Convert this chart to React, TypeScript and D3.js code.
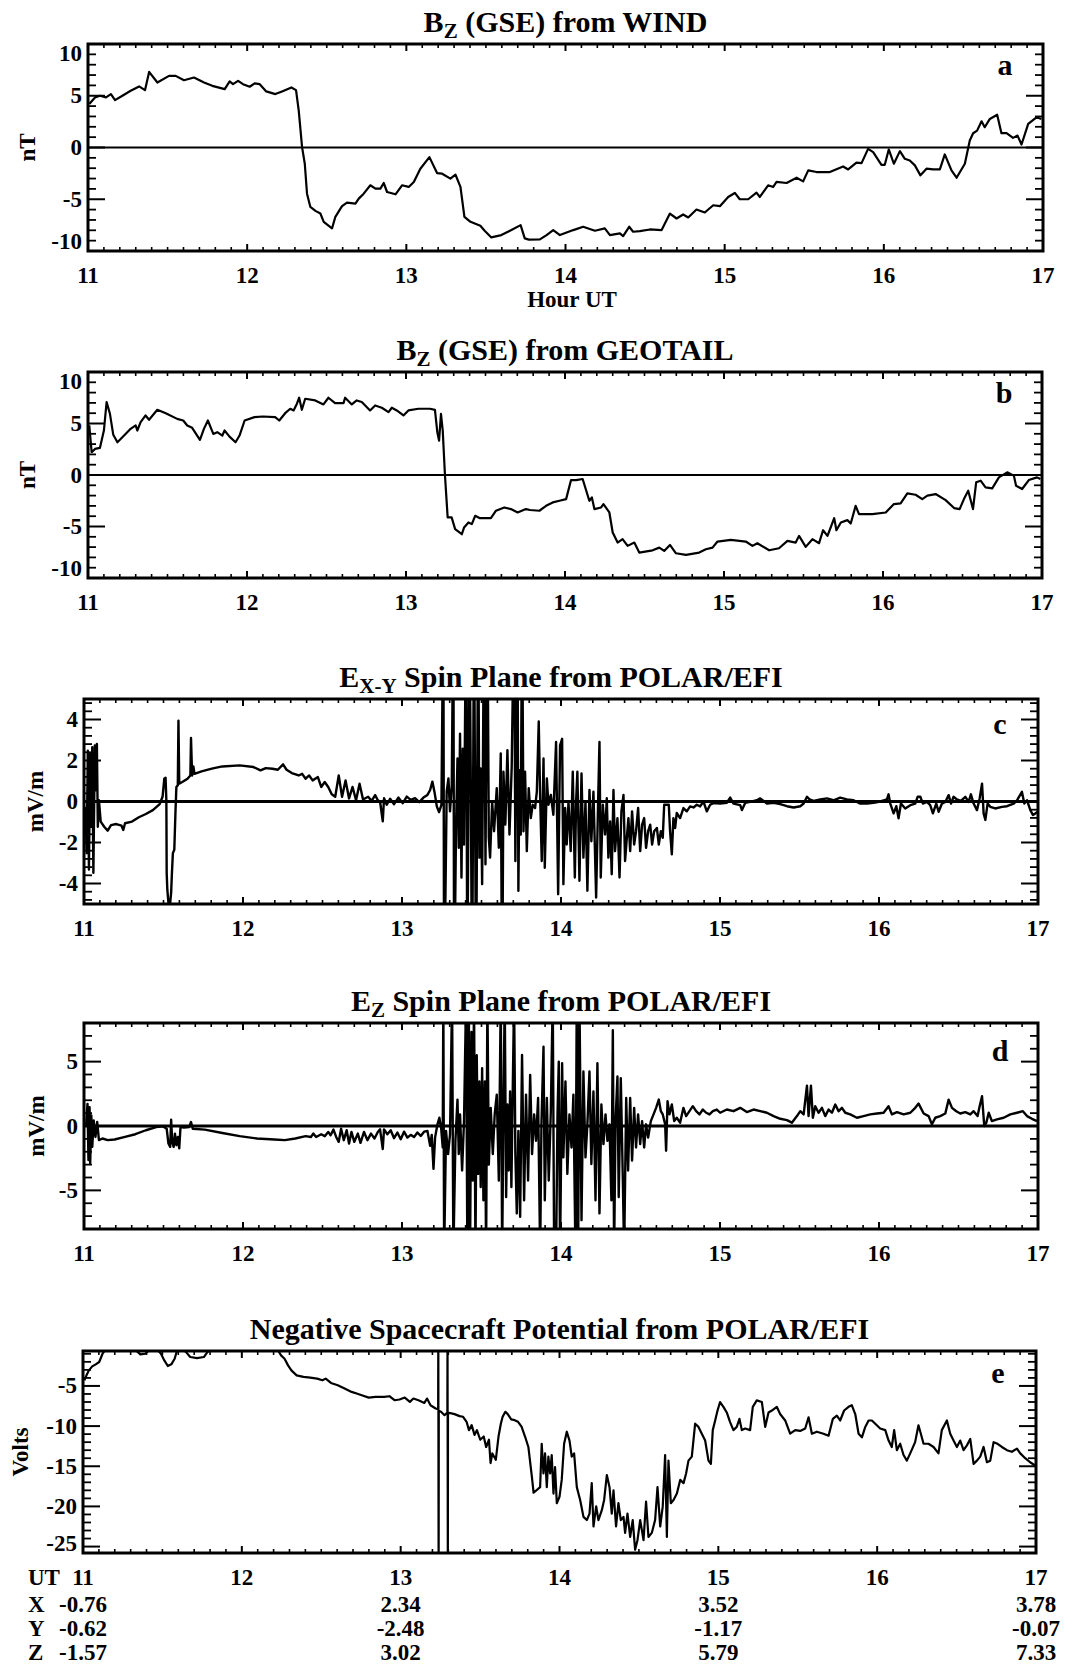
import * as d3 from "d3";

type Pt = [number, number];

const W = 1079;
const H = 1669;
const SERIF = "'Liberation Serif', 'Times New Roman', Times, serif";

const hourTicks = [11, 12, 13, 14, 15, 16, 17];

// Bz (GSE) from WIND, nT  [hour UT, value]
const windBz: Pt[] = [
  [11.008, 4.2], [11.044, 4.84], [11.075, 5.0], [11.113, 4.84], [11.144, 5.16], [11.17, 4.58],
  [11.216, 5.0], [11.268, 5.48], [11.321, 5.9], [11.358, 5.54], [11.384, 7.3], [11.436, 6.28],
  [11.509, 6.92], [11.551, 6.92], [11.603, 6.5], [11.666, 6.76], [11.729, 6.28], [11.781, 5.96],
  [11.859, 5.64], [11.89, 6.38], [11.911, 6.12], [11.943, 6.44], [11.974, 6.12], [12.016, 5.87],
  [12.047, 6.19], [12.079, 6.12], [12.12, 5.42], [12.177, 5.16], [12.219, 5.42], [12.278, 5.8],
  [12.307, 5.54], [12.324, 3.56], [12.345, 0.03], [12.362, -1.57], [12.376, -4.46], [12.397, -5.74],
  [12.429, -6.12], [12.46, -6.38], [12.481, -7.18], [12.533, -7.82], [12.554, -6.7], [12.596, -5.67],
  [12.627, -5.32], [12.68, -5.42], [12.701, -4.94], [12.732, -4.46], [12.774, -3.65], [12.806, -3.97],
  [12.837, -3.97], [12.858, -3.43], [12.879, -4.3], [12.932, -4.52], [12.973, -3.65], [13.015, -3.81],
  [13.047, -3.33], [13.088, -2.05], [13.145, -0.93], [13.193, -2.47], [13.225, -2.53], [13.277, -3.01],
  [13.309, -2.63], [13.34, -3.81], [13.365, -6.7], [13.403, -7.18], [13.465, -7.56], [13.492, -8.04],
  [13.534, -8.69], [13.597, -8.46], [13.66, -7.98], [13.718, -7.5], [13.744, -8.78], [13.77, -8.9],
  [13.839, -8.88], [13.881, -8.46], [13.923, -7.98], [13.965, -8.46], [14.049, -7.98], [14.111, -7.66],
  [14.185, -8.04], [14.247, -7.82], [14.279, -8.46], [14.342, -8.3], [14.362, -8.56], [14.4, -7.66],
  [14.425, -8.14], [14.467, -8.08], [14.53, -7.92], [14.604, -7.98], [14.656, -6.38], [14.698, -6.86],
  [14.739, -6.47], [14.771, -6.76], [14.823, -5.99], [14.875, -6.28], [14.928, -5.58], [14.97, -5.67],
  [15.022, -4.78], [15.064, -4.39], [15.095, -5.0], [15.148, -5.0], [15.2, -4.36], [15.221, -4.78],
  [15.273, -3.65], [15.305, -3.81], [15.326, -3.33], [15.389, -3.43], [15.452, -2.92], [15.493, -3.27],
  [15.525, -2.21], [15.577, -2.37], [15.661, -2.37], [15.744, -1.83], [15.776, -2.12], [15.828, -1.47],
  [15.86, -1.51], [15.901, -0.13], [15.933, -0.45], [15.985, -1.67], [16.006, -1.67], [16.031, -0.19],
  [16.063, -1.57], [16.101, -0.35], [16.132, -1.09], [16.163, -1.25], [16.195, -1.73], [16.23, -2.69],
  [16.268, -2.05], [16.31, -2.12], [16.352, -2.12], [16.383, -0.67], [16.425, -2.21], [16.457, -2.92],
  [16.509, -1.57], [16.54, 0.67], [16.561, 1.38], [16.586, 1.63], [16.614, 2.53], [16.634, 1.96],
  [16.666, 2.76], [16.712, 3.17], [16.739, 1.38], [16.771, 1.38], [16.812, 0.93], [16.84, 1.15],
  [16.865, 0.29], [16.907, 2.28], [16.959, 2.92], [16.99, 2.76],
];

// Bz (GSE) from GEOTAIL, nT
const geotailBz: Pt[] = [
  [11.008, 4.81], [11.023, 2.21], [11.044, 2.53], [11.075, 2.63], [11.1, 4.32], [11.117, 7.08],
  [11.138, 5.94], [11.159, 3.9], [11.185, 3.18], [11.227, 3.83], [11.268, 4.48], [11.3, 4.81],
  [11.31, 4.32], [11.331, 5.13], [11.362, 5.78], [11.384, 5.36], [11.436, 6.33], [11.489, 6.0],
  [11.561, 5.45], [11.599, 5.29], [11.624, 4.81], [11.655, 4.58], [11.704, 3.41], [11.729, 4.48],
  [11.754, 5.29], [11.788, 3.99], [11.813, 4.16], [11.845, 3.83], [11.859, 4.32], [11.89, 3.73],
  [11.928, 3.18], [11.953, 3.83], [11.985, 5.29], [12.047, 5.62], [12.1, 5.68], [12.177, 5.62],
  [12.203, 5.29], [12.24, 6.0], [12.272, 6.43], [12.293, 6.27], [12.314, 6.92], [12.328, 7.5],
  [12.345, 6.33], [12.366, 7.4], [12.429, 7.24], [12.481, 6.85], [12.512, 7.5], [12.554, 6.98],
  [12.607, 6.98], [12.617, 7.5], [12.659, 6.85], [12.69, 7.24], [12.722, 7.08], [12.774, 6.27],
  [12.806, 6.75], [12.848, 6.53], [12.89, 6.1], [12.911, 6.53], [12.942, 6.27], [12.984, 5.78],
  [13.015, 6.27], [13.078, 6.43], [13.151, 6.43], [13.182, 6.33], [13.197, 4.16], [13.208, 3.34],
  [13.22, 5.94], [13.231, 4.32], [13.245, 0], [13.262, -4.12], [13.287, -4.12], [13.309, -5.26],
  [13.351, -5.75], [13.365, -5.1], [13.393, -4.61], [13.414, -4.77], [13.435, -3.96], [13.465, -4.19],
  [13.534, -4.19], [13.566, -3.47], [13.618, -3.15], [13.66, -3.31], [13.702, -3.64], [13.754, -3.31],
  [13.78, -3.4], [13.839, -3.47], [13.881, -2.99], [13.923, -2.66], [13.965, -2.5], [14.007, -2.34],
  [14.038, -0.49], [14.07, -0.49], [14.111, -0.39], [14.153, -2.5], [14.169, -2.18], [14.185, -3.31],
  [14.227, -3.15], [14.242, -2.82], [14.279, -3.64], [14.3, -5.58], [14.331, -6.56], [14.362, -6.23],
  [14.394, -6.88], [14.436, -6.56], [14.467, -7.53], [14.551, -7.31], [14.593, -7.05], [14.624, -7.37],
  [14.66, -6.79], [14.698, -7.6], [14.761, -7.76], [14.844, -7.53], [14.886, -7.21], [14.928, -7.05],
  [14.959, -6.46], [15.043, -6.3], [15.137, -6.46], [15.179, -6.88], [15.21, -6.62], [15.284, -7.31],
  [15.346, -7.11], [15.399, -6.4], [15.451, -6.56], [15.472, -5.91], [15.514, -6.98], [15.556, -6.23],
  [15.598, -6.62], [15.623, -5.36], [15.651, -5.91], [15.693, -4.19], [15.707, -5.36], [15.735, -4.61],
  [15.776, -4.38], [15.797, -4.71], [15.828, -2.99], [15.849, -3.8], [15.933, -3.8], [16.017, -3.64],
  [16.069, -2.82], [16.111, -2.76], [16.153, -1.79], [16.205, -1.92], [16.247, -2.34], [16.279, -2.01],
  [16.331, -1.85], [16.394, -2.44], [16.447, -3.21], [16.482, -3.31], [16.509, -2.34], [16.536, -1.53],
  [16.566, -3.31], [16.586, -0.71], [16.614, -0.55], [16.645, -1.2], [16.687, -1.3], [16.729, -0.23],
  [16.781, 0.26], [16.823, -0.06], [16.837, -1.04], [16.875, -1.36], [16.917, -0.49], [16.969, -0.23],
  [16.99, -0.39],
];

// E x-y spin plane from POLAR/EFI, mV/m (values beyond the box are off-scale spikes)
const exyEfi: Pt[] = [
  [11.009, -0.26], [11.017, -2.52], [11.024, 2.48], [11.031, -3.32], [11.039, 2.32], [11.046, -1.23],
  [11.052, 2.65], [11.059, -3.48], [11.068, 2.73], [11.074, 0.55], [11.081, 2.81], [11.087, -1.23],
  [11.094, 0.06], [11.105, -0.98], [11.127, -1.23], [11.149, -1.42], [11.17, -1.15], [11.203, -1.1],
  [11.236, -1.18], [11.247, -1.39], [11.258, -1.06], [11.302, -0.98], [11.345, -0.77], [11.389, -0.61],
  [11.433, -0.42], [11.476, -0.13], [11.494, 0.23], [11.505, 1.11], [11.513, 1.16], [11.518, 0.06],
  [11.52, -3.48], [11.524, -4.29], [11.531, -4.94], [11.542, -4.94], [11.548, -4.45], [11.553, -3.48],
  [11.559, -2.52], [11.568, -2.35], [11.575, -0.58], [11.581, 0.71], [11.59, 0.79], [11.594, 3.94],
  [11.599, 0.87], [11.618, 0.95], [11.651, 1.11], [11.669, 1.27], [11.673, 3.1], [11.68, 1.27],
  [11.688, 1.71], [11.695, 1.35], [11.739, 1.47], [11.804, 1.6], [11.87, 1.71], [11.979, 1.76],
  [12.066, 1.68], [12.11, 1.52], [12.143, 1.63], [12.186, 1.6], [12.219, 1.55], [12.252, 1.81],
  [12.274, 1.55], [12.307, 1.39], [12.35, 1.27], [12.372, 1.35], [12.394, 1.11], [12.416, 1.27],
  [12.438, 1.03], [12.471, 1.19], [12.492, 0.71], [12.514, 0.95], [12.536, 0.71], [12.558, 0.35],
  [12.58, 0.23], [12.602, 1.27], [12.623, 0.23], [12.645, 1.03], [12.667, 0.15], [12.689, 0.71],
  [12.711, 0.06], [12.733, 0.87], [12.755, 0.1], [12.787, 0.23], [12.809, 0.03], [12.831, 0.31],
  [12.848, 0.06], [12.862, 0], [12.879, -0.97], [12.887, 0.16], [12.904, -0.16], [12.925, 0.13],
  [12.95, -0.13], [12.977, 0.19], [13.005, -0.08], [13.03, 0.24], [13.055, 0.08], [13.082, 0.16],
  [13.109, -0.03], [13.135, 0.19], [13.16, 0.32], [13.177, 0.56], [13.191, 0.97], [13.204, 0.48],
  [13.219, -0.24], [13.233, -0.52], [13.248, -0.16], [13.26, 10], [13.265, -10], [13.281, 0.48],
  [13.292, 1.13], [13.302, -0.48], [13.313, 0.81], [13.323, 10], [13.328, -10], [13.34, -1.13],
  [13.349, 2.1], [13.357, -2.26], [13.365, 3.31], [13.374, -3.71], [13.382, 2.58], [13.39, -2.1],
  [13.403, 10], [13.411, -10], [13.424, 10], [13.432, 1.61], [13.441, -10], [13.453, 10],
  [13.466, -10], [13.479, 10], [13.487, -2.74], [13.495, 1.61], [13.504, -4.03], [13.516, 10],
  [13.525, -3.06], [13.537, 10], [13.546, -1.77], [13.554, -2.74], [13.567, 0], [13.579, -1.45],
  [13.596, 0.65], [13.609, -2.26], [13.621, 2.34], [13.63, -10], [13.638, 1.45], [13.65, -1.13],
  [13.663, 2.5], [13.676, -1.61], [13.69, 1.69], [13.705, 10], [13.713, -2.9], [13.726, 10],
  [13.732, -4.35], [13.739, 1.53], [13.747, -1.61], [13.755, 10], [13.764, -1.45], [13.774, 1.45],
  [13.785, -2.42], [13.797, 0.65], [13.81, -0.81], [13.822, -0.16], [13.837, -0.32], [13.848, 0.48],
  [13.86, 3.9], [13.869, 0.16], [13.879, -2.9], [13.89, 2.1], [13.898, -3.23], [13.911, 1.13],
  [13.921, -0.16], [13.936, 0.32], [13.952, -0.65], [13.969, 2.9], [13.982, -4.52], [13.994, 2.74],
  [14.007, 3.06], [14.015, -4.03], [14.026, -0.32], [14.036, -2.1], [14.047, 0], [14.061, -2.42],
  [14.074, 1.45], [14.087, -3.71], [14.095, 0], [14.103, 1.45], [14.116, -3.87], [14.129, 1.37],
  [14.141, -2.74], [14.154, 0], [14.166, -4.35], [14.179, 0.56], [14.191, -1.94], [14.204, 0.48],
  [14.221, -4.68], [14.233, -0.16], [14.242, 2.9], [14.25, -3.71], [14.263, -0.16], [14.277, -1.61],
  [14.288, 0.16], [14.298, -2.74], [14.309, -0.97], [14.319, -3.55], [14.33, 0.56], [14.34, -2.42],
  [14.355, -0.81], [14.368, -3.71], [14.38, -0.48], [14.393, 0.32], [14.403, -2.9], [14.414, -1.77],
  [14.424, -0.81], [14.435, -2.42], [14.447, -0.48], [14.46, -2.1], [14.472, -1.45], [14.485, -0.32],
  [14.498, -2.42], [14.51, -1.13], [14.523, -0.81], [14.535, -2.26], [14.548, -1.45], [14.561, -1.13],
  [14.573, -2.1], [14.586, -1.45], [14.603, -1.29], [14.615, -2.1], [14.628, -1.45], [14.64, -1.77],
  [14.649, -0.16], [14.678, -0.16], [14.686, -1.45], [14.697, -2.58], [14.707, -0.81], [14.718, -1.29],
  [14.728, -0.56], [14.749, -0.81], [14.77, -0.32], [14.791, -0.48], [14.812, -0.24], [14.833, -0.29],
  [14.854, -0.16], [14.875, -0.24], [14.896, 0], [14.917, -0.48], [14.938, -0.16], [14.959, -0.08],
  [15.001, -0.1], [15.043, -0.06], [15.064, 0.19], [15.085, -0.1], [15.127, -0.18], [15.138, -0.42],
  [15.159, -0.06], [15.19, -0.02], [15.232, 0.06], [15.253, 0.15], [15.295, -0.1], [15.337, -0.06],
  [15.379, -0.13], [15.421, -0.23], [15.463, -0.29], [15.505, -0.23], [15.526, -0.1], [15.547, 0.23],
  [15.563, 0.1], [15.589, 0.03], [15.631, 0.1], [15.672, 0.15], [15.714, 0.06], [15.756, 0.19],
  [15.798, 0.1], [15.84, 0.06], [15.882, -0.1], [15.924, -0.1], [15.966, -0.06], [16.008, 0],
  [16.05, 0.1], [16.06, 0.35], [16.071, -0.1], [16.092, -0.58], [16.109, -0.23], [16.123, -0.82],
  [16.138, -0.1], [16.165, -0.34], [16.197, -0.18], [16.228, -0.1], [16.243, 0.23], [16.26, 0.23],
  [16.276, -0.1], [16.302, -0.02], [16.322, -0.18], [16.339, -0.58], [16.36, -0.1], [16.375, -0.5],
  [16.396, -0.1], [16.417, -0.02], [16.438, 0.31], [16.453, -0.1], [16.469, 0.23], [16.49, 0.1],
  [16.515, 0.03], [16.543, 0.23], [16.564, -0.02], [16.578, 0.35], [16.595, -0.1], [16.616, -0.42],
  [16.633, 0.15], [16.648, 0.87], [16.658, -0.58], [16.669, -0.9], [16.683, -0.1], [16.7, -0.26],
  [16.731, -0.34], [16.773, -0.26], [16.805, -0.23], [16.847, -0.1], [16.868, 0.06], [16.899, 0.47],
  [16.914, -0.1], [16.931, 0.06], [16.952, -0.42], [16.968, -0.66], [16.983, -0.58], [16.998, -0.5],
];

// E z spin plane from POLAR/EFI, mV/m
const ezEfi: Pt[] = [
  [11.013, 0], [11.022, 1.72], [11.028, -2.64], [11.035, 1.46], [11.039, -2.9], [11.046, 0.82],
  [11.052, -1.62], [11.061, 0.44], [11.072, -0.85], [11.083, 0.31], [11.094, -1.1], [11.116, -0.97],
  [11.149, -1.1], [11.192, -1.05], [11.258, -0.85], [11.323, -0.64], [11.389, -0.33], [11.454, -0.08],
  [11.498, -0.03], [11.52, -0.21], [11.531, -1.36], [11.542, -1.62], [11.548, 0.49], [11.555, -1.23],
  [11.564, -1.62], [11.572, -0.59], [11.581, -1.49], [11.59, -0.85], [11.599, -1.74], [11.607, -0.08],
  [11.629, -0.13], [11.662, -0.08], [11.673, 0.31], [11.684, -0.21], [11.76, -0.28], [11.87, -0.54],
  [11.979, -0.79], [12.088, -0.97], [12.197, -1.05], [12.263, -1.1], [12.329, -0.97], [12.394, -0.79],
  [12.427, -0.85], [12.442, -0.59], [12.46, -0.85], [12.492, -0.64], [12.514, -0.79], [12.536, -0.46],
  [12.551, -0.72], [12.569, -0.28], [12.586, -0.85], [12.602, -1.23], [12.617, -0.21], [12.634, -1.1],
  [12.652, -0.33], [12.667, -1.36], [12.682, -0.46], [12.7, -1.23], [12.722, -0.59], [12.739, -1.31],
  [12.761, -0.46], [12.783, -1.1], [12.805, -0.59], [12.827, -0.97], [12.848, -0.46], [12.862, -0.26],
  [12.879, -1.79], [12.887, -0.26], [12.908, -0.64], [12.929, -0.33], [12.95, -0.95], [12.971, -0.51],
  [12.992, -1.03], [13.013, -0.44], [13.034, -0.9], [13.055, -0.69], [13.076, -0.85], [13.097, -0.51],
  [13.118, -0.77], [13.139, -0.44], [13.16, -0.38], [13.177, -1.54], [13.187, -0.69], [13.198, -3.33],
  [13.208, -0.9], [13.223, 0.13], [13.235, 0.64], [13.246, -0.13], [13.256, -1.67], [13.26, 10],
  [13.265, -10], [13.277, -0.38], [13.29, -2.18], [13.302, -0.64], [13.315, 10], [13.323, -10],
  [13.336, -1.15], [13.349, 2.05], [13.357, -2.18], [13.365, 0.9], [13.378, -3.46], [13.39, 0.38],
  [13.403, 10], [13.411, -10], [13.42, 10], [13.428, -10], [13.437, 7.3], [13.445, -4.23],
  [13.453, 10], [13.462, -10], [13.47, 5.5], [13.479, -3.72], [13.487, 3.46], [13.495, -4.74],
  [13.504, 4.49], [13.512, -5.77], [13.521, 3.46], [13.529, -10], [13.537, 10], [13.546, -3.0],
  [13.558, 1.41], [13.571, -2.18], [13.583, 0.9], [13.596, 2.44], [13.609, -4.23], [13.621, 10],
  [13.63, -10], [13.638, 1.15], [13.646, 10], [13.655, -5.51], [13.663, 1.67], [13.671, -3.46],
  [13.68, 2.69], [13.688, -4.74], [13.697, 3.21], [13.705, 10], [13.713, -2.18], [13.722, -6.79],
  [13.732, -0.38], [13.743, -7.05], [13.755, 5.51], [13.768, -5.77], [13.78, 2.44], [13.793, -4.23],
  [13.806, 3.97], [13.818, -2.18], [13.831, 0.9], [13.843, -1.15], [13.856, 2.18], [13.869, -10],
  [13.877, 0.13], [13.89, 6.15], [13.898, -5.77], [13.911, 2.18], [13.923, -4.23], [13.936, 1.15],
  [13.948, 10], [13.957, -10], [13.969, -10], [13.978, 0.9], [13.986, 5.0], [13.994, -10],
  [14.007, 4.87], [14.015, -2.44], [14.028, 3.46], [14.04, -3.72], [14.053, 0.9], [14.066, -1.67],
  [14.078, 2.44], [14.091, -10], [14.099, 10], [14.108, -10], [14.116, 10], [14.129, -7.31],
  [14.141, 4.23], [14.154, -2.44], [14.166, 0.13], [14.179, 4.23], [14.191, -2.95], [14.204, 2.69],
  [14.217, -5.77], [14.229, 4.87], [14.242, -6.79], [14.254, 1.67], [14.267, -1.41], [14.28, 0.9],
  [14.292, -1.15], [14.305, 0.13], [14.317, -5.77], [14.326, 7.44], [14.334, -10], [14.343, 0.38],
  [14.355, 3.85], [14.363, -5.51], [14.376, 3.72], [14.389, -4.23], [14.397, -10], [14.41, 2.18],
  [14.422, -3.46], [14.435, 2.18], [14.447, -2.69], [14.46, 1.41], [14.472, -1.67], [14.485, 0.9],
  [14.498, -1.41], [14.51, 0.38], [14.523, -1.67], [14.535, 0.13], [14.548, -0.9], [14.565, 0.38],
  [14.582, 0.9], [14.598, 1.41], [14.615, 2.05], [14.628, 1.15], [14.64, 0.9], [14.655, 0.13],
  [14.661, -1.92], [14.67, 1.92], [14.682, 0.9], [14.697, 1.67], [14.712, 0.38], [14.728, 0.64],
  [14.749, 0.26], [14.77, 1.41], [14.787, 0.77], [14.808, 1.15], [14.829, 1.54], [14.85, 1.15],
  [14.871, 0.9], [14.892, 1.28], [14.913, 1.03], [14.934, 0.9], [14.955, 1.15], [14.98, 1.28],
  [15.001, 1.03], [15.043, 1.28], [15.085, 1.15], [15.127, 1.41], [15.169, 1.08], [15.211, 1.28],
  [15.253, 1.15], [15.295, 1.03], [15.337, 0.77], [15.379, 0.56], [15.421, 0.46], [15.452, 0.26],
  [15.484, 0.77], [15.505, 1.15], [15.526, 0.9], [15.547, 3.13], [15.557, 0.77], [15.572, 3.13],
  [15.584, 0.64], [15.599, 1.54], [15.62, 1.03], [15.641, 1.41], [15.662, 0.77], [15.683, 1.28],
  [15.704, 1.03], [15.725, 1.67], [15.746, 1.15], [15.767, 1.41], [15.788, 1.03], [15.819, 0.9],
  [15.861, 0.64], [15.903, 0.77], [15.945, 0.9], [15.987, 0.97], [16.029, 1.03], [16.06, 1.54],
  [16.081, 0.9], [16.113, 1.08], [16.155, 0.9], [16.197, 1.03], [16.228, 1.41], [16.249, 1.74],
  [16.281, 0.97], [16.312, 0.77], [16.333, 0.13], [16.354, 0.64], [16.385, 0.77], [16.417, 0.97],
  [16.438, 2.05], [16.459, 1.41], [16.486, 1.15], [16.511, 0.97], [16.543, 1.08], [16.574, 0.9],
  [16.595, 1.15], [16.62, 0.77], [16.633, 1.54], [16.648, 2.31], [16.662, 0], [16.675, 0.26],
  [16.69, 1.03], [16.71, 0.38], [16.742, 0.51], [16.784, 0.64], [16.826, 0.9], [16.868, 1.03],
  [16.905, 1.15], [16.931, 0.77], [16.962, 0.56], [16.994, 0.38],
];

// Negative spacecraft potential from POLAR/EFI, Volts
const scPotential: Pt[] = [
  [11.009, -4.3], [11.022, -3.68], [11.037, -3.06], [11.058, -2.56], [11.08, -2.31], [11.102, -2.02],
  [11.123, -0.99], [11.145, -0.37], [11.177, -0.2], [11.285, -0.37], [11.339, -0.66], [11.361, -1.07],
  [11.393, -0.99], [11.415, -0.58], [11.458, -0.25], [11.491, -0.99], [11.512, -1.82], [11.534, -2.52],
  [11.556, -2.31], [11.577, -1.61], [11.592, -0.58], [11.621, -0.25], [11.649, -0.79], [11.675, -1.4],
  [11.718, -1.53], [11.761, -1.4], [11.783, -0.79], [11.815, -0.25], [11.977, -0.25], [12.15, -0.25],
  [12.226, -0.5], [12.247, -1.2], [12.269, -1.61], [12.291, -2.44], [12.312, -3.06], [12.345, -3.68],
  [12.388, -3.88], [12.431, -3.97], [12.474, -4.09], [12.507, -4.3], [12.528, -4.09], [12.561, -4.63],
  [12.604, -4.92], [12.647, -5.33], [12.691, -5.74], [12.723, -5.95], [12.755, -6.16], [12.799, -6.45],
  [12.842, -6.36], [12.896, -6.36], [12.929, -6.28], [12.961, -6.78], [12.993, -6.69], [13.026, -6.45],
  [13.058, -6.98], [13.08, -6.57], [13.112, -6.78], [13.149, -7.11], [13.166, -6.57], [13.188, -7.4],
  [13.22, -7.81], [13.236, -7.9], [13.237, 2], [13.239, -30], [13.24, -8.1], [13.254, -8.22],
  [13.276, -8.64], [13.294, -8.3], [13.295, 2], [13.297, -30], [13.298, -8.3], [13.306, -8.35],
  [13.339, -8.51], [13.371, -8.76], [13.393, -8.84], [13.415, -9.46], [13.43, -10.5], [13.447, -9.88],
  [13.465, -11.1], [13.48, -10.5], [13.501, -11.7], [13.523, -11.3], [13.538, -12.6], [13.556, -11.7],
  [13.566, -14.6], [13.577, -13.4], [13.599, -14.2], [13.616, -11.3], [13.631, -9.67], [13.642, -8.84],
  [13.659, -8.22], [13.674, -8.51], [13.696, -9.17], [13.718, -9.26], [13.739, -9.46], [13.761, -10.08],
  [13.783, -11.3], [13.804, -12.6], [13.826, -16.3], [13.837, -18.3], [13.878, -17.6], [13.888, -12.2],
  [13.899, -15.9], [13.909, -13.4], [13.92, -17.6], [13.93, -13.8], [13.941, -15.9], [13.951, -13.6],
  [13.962, -18.4], [13.972, -15.1], [13.983, -19.6], [14.0, -18.8], [14.014, -16.7], [14.029, -12.2],
  [14.046, -10.7], [14.063, -11.8], [14.077, -13.8], [14.092, -13.4], [14.109, -17.6], [14.13, -19.2],
  [14.151, -21.3], [14.172, -21.7], [14.189, -20.9], [14.203, -17.1], [14.214, -22.5], [14.231, -20.0],
  [14.245, -21.7], [14.266, -20.5], [14.281, -19.2], [14.298, -16.1], [14.315, -17.6], [14.329, -20.9],
  [14.34, -18.0], [14.356, -22.5], [14.371, -19.6], [14.386, -21.7], [14.403, -21.3], [14.413, -23.3],
  [14.428, -20.9], [14.445, -23.8], [14.461, -21.7], [14.476, -25.4], [14.491, -24.2], [14.508, -21.7],
  [14.529, -24.2], [14.545, -19.4], [14.56, -23.8], [14.581, -23.3], [14.602, -21.7], [14.617, -17.6],
  [14.634, -22.5], [14.65, -20.0], [14.665, -13.6], [14.676, -23.8], [14.686, -14.3], [14.701, -19.6],
  [14.718, -19.2], [14.739, -18.4], [14.76, -16.7], [14.781, -17.1], [14.797, -15.9], [14.812, -14.3],
  [14.833, -13.8], [14.854, -9.7], [14.875, -10.1], [14.896, -10.95], [14.917, -11.8], [14.938, -14.3],
  [14.953, -14.7], [14.965, -10.5], [14.98, -9.3], [14.995, -8.06], [15.011, -7.0], [15.032, -7.6],
  [15.053, -8.3], [15.074, -9.5], [15.095, -10.5], [15.116, -10.1], [15.133, -9.1], [15.148, -10.5],
  [15.169, -10.3], [15.2, -10.5], [15.217, -7.6], [15.242, -6.8], [15.274, -7.0], [15.295, -10.1],
  [15.316, -8.3], [15.337, -8.06], [15.368, -7.6], [15.389, -8.5], [15.421, -9.3], [15.452, -10.95],
  [15.484, -10.5], [15.515, -10.6], [15.547, -10.3], [15.568, -8.9], [15.589, -10.95], [15.62, -10.7],
  [15.662, -10.95], [15.694, -11.2], [15.721, -9.1], [15.746, -8.7], [15.767, -9.3], [15.792, -8.06],
  [15.82, -7.6], [15.84, -7.4], [15.862, -8.5], [15.883, -10.95], [15.904, -11.4], [15.925, -10.1],
  [15.946, -9.3], [15.967, -9.3], [15.988, -9.7], [16.019, -10.3], [16.051, -10.5], [16.072, -11.8],
  [16.092, -12.6], [16.107, -10.5], [16.124, -13.0], [16.145, -12.2], [16.166, -13.6], [16.187, -14.3],
  [16.208, -13.4], [16.239, -12.0], [16.26, -9.9], [16.275, -10.95], [16.292, -12.2], [16.323, -12.2],
  [16.355, -12.6], [16.386, -13.4], [16.407, -10.5], [16.439, -9.3], [16.46, -10.95], [16.481, -11.8],
  [16.502, -12.6], [16.523, -11.8], [16.544, -13.0], [16.565, -12.4], [16.586, -11.6], [16.607, -14.7],
  [16.628, -14.3], [16.649, -13.8], [16.67, -12.6], [16.691, -14.5], [16.712, -14.3], [16.733, -12.0],
  [16.758, -12.2], [16.785, -12.6], [16.817, -13.0], [16.848, -13.2], [16.88, -12.8], [16.901, -13.4],
  [16.932, -14.0], [16.963, -14.5], [16.995, -14.9],
];

// POLAR position table under the last panel
const orbitHours = [11, 13, 15, 17];
const orbitX = ["-0.76", "2.34", "3.52", "3.78"];
const orbitY = ["-0.62", "-2.48", "-1.17", "-0.07"];
const orbitZ = ["-1.57", "3.02", "5.79", "7.33"];

type Box = { l: number; r: number; t: number; b: number };
type Panel = {
  key: string;
  title: [string, string, string];
  yLabel: string;
  yLabelX: number;
  letter: string;
  letterDy: number;
  data: Pt[];
  domain: [number, number];
  majors: number[];
  minorStep: number;
  box: Box;
  zero: number | null;
  lineW: number;
};

const panels: Panel[] = [
  {
    key: "a", title: ["B", "Z", " (GSE) from WIND"], yLabel: "nT", yLabelX: 27, letter: "a", letterDy: 31,
    data: windBz, domain: [-10, 10], majors: [-10, -5, 0, 5, 10], minorStep: 1,
    box: { l: 88, r: 1043, t: 44, b: 251 }, zero: 2.2, lineW: 2.2,
  },
  {
    key: "b", title: ["B", "Z", " (GSE) from GEOTAIL"], yLabel: "nT", yLabelX: 27, letter: "b", letterDy: 31,
    data: geotailBz, domain: [-10, 10], majors: [-10, -5, 0, 5, 10], minorStep: 1,
    box: { l: 88, r: 1042, t: 372, b: 578 }, zero: 2.2, lineW: 2.2,
  },
  {
    key: "c", title: ["E", "X-Y", " Spin Plane from POLAR/EFI"], yLabel: "mV/m", yLabelX: 35, letter: "c", letterDy: 35,
    data: exyEfi, domain: [-5, 5], majors: [-4, -2, 0, 2, 4], minorStep: 0.4,
    box: { l: 84, r: 1038, t: 699, b: 904 }, zero: 3, lineW: 2.4,
  },
  {
    key: "d", title: ["E", "Z", " Spin Plane from POLAR/EFI"], yLabel: "mV/m", yLabelX: 36, letter: "d", letterDy: 38,
    data: ezEfi, domain: [-8, 8], majors: [-5, 0, 5], minorStep: 1,
    box: { l: 84, r: 1038, t: 1023, b: 1229 }, zero: 3, lineW: 2.4,
  },
  {
    key: "e", title: ["Negative Spacecraft Potential from POLAR/EFI", "", ""], yLabel: "Volts", yLabelX: 20, letter: "e", letterDy: 32,
    data: scPotential, domain: [-25.8, -0.65], majors: [-25, -20, -15, -10, -5], minorStep: 1,
    box: { l: 83, r: 1036, t: 1351, b: 1553 }, zero: null, lineW: 2.2,
  },
];

function PanelView({ p }: { p: Panel }) {
  const { l, r, t, b } = p.box;
  const x = d3.scaleLinear().domain([11, 17]).range([l, r]);
  const y = d3.scaleLinear().domain(p.domain).range([b, t]);
  const line = d3
    .line<Pt>()
    .x((d) => x(d[0]))
    .y((d) => y(d[1]));

  const minorX = d3
    .range(111, 170)
    .filter((k) => k % 10 !== 0)
    .map((k) => k / 10);
  const [d0, d1] = p.domain;
  const minorY = d3
    .range(Math.ceil(d0 / p.minorStep), Math.floor(d1 / p.minorStep) + 1)
    .map((k) => +(k * p.minorStep).toFixed(4))
    .filter((v) => v > d0 + 1e-6 && v < d1 - 1e-6 && !p.majors.some((m) => Math.abs(m - v) < 1e-6));

  const isLast = p.key === "e";
  const labelY = (v: number) => Math.min(Math.max(y(v), t + 9), b - 10);

  return (
    <g>
      <defs>
        <clipPath id={`clip-${p.key}`}>
          <rect x={l} y={t} width={r - l} height={b - t} />
        </clipPath>
      </defs>

      {/* title */}
      <text x={(l + r) / 2} y={t - 12} textAnchor="middle" fontSize={30} fontWeight="bold">
        <tspan>{p.title[0]}</tspan>
        {p.title[1] && (
          <tspan fontSize={21} dy={6}>
            {p.title[1]}
          </tspan>
        )}
        {p.title[2] && <tspan dy={p.title[1] ? -6 : 0}>{p.title[2]}</tspan>}
      </text>

      {/* data */}
      <path
        d={line(p.data) ?? ""}
        fill="none"
        stroke="#000"
        strokeWidth={p.lineW}
        strokeLinejoin="round"
        clipPath={`url(#clip-${p.key})`}
      />

      {p.zero !== null && (
        <line x1={l} x2={r} y1={y(0)} y2={y(0)} stroke="#000" strokeWidth={p.zero} />
      )}

      {/* x ticks, top and bottom */}
      {hourTicks.map((h) => (
        <g key={`xm${h}`}>
          <line x1={x(h)} x2={x(h)} y1={b} y2={b - 7} stroke="#000" strokeWidth={2} />
          <line x1={x(h)} x2={x(h)} y1={t} y2={t + 7} stroke="#000" strokeWidth={2} />
        </g>
      ))}
      {minorX.map((h) => (
        <g key={`xn${h}`}>
          <line x1={x(h)} x2={x(h)} y1={b} y2={b - 4} stroke="#000" strokeWidth={1.6} />
          <line x1={x(h)} x2={x(h)} y1={t} y2={t + 4} stroke="#000" strokeWidth={1.6} />
        </g>
      ))}

      {/* y ticks, left and right */}
      {p.majors.map((v) => (
        <g key={`ym${v}`}>
          <line x1={l} x2={l + 17} y1={y(v)} y2={y(v)} stroke="#000" strokeWidth={2} />
          <line x1={r} x2={r - 17} y1={y(v)} y2={y(v)} stroke="#000" strokeWidth={2} />
        </g>
      ))}
      {minorY.map((v) => (
        <g key={`yn${v}`}>
          <line x1={l} x2={l + 8} y1={y(v)} y2={y(v)} stroke="#000" strokeWidth={1.8} />
          <line x1={r} x2={r - 8} y1={y(v)} y2={y(v)} stroke="#000" strokeWidth={1.8} />
        </g>
      ))}

      {/* frame */}
      <rect x={l} y={t} width={r - l} height={b - t} fill="none" stroke="#000" strokeWidth={3} />

      {/* y tick labels */}
      {p.majors.map((v) => (
        <text
          key={`yl${v}`}
          x={l - 6}
          y={labelY(v)}
          textAnchor="end"
          dominantBaseline="central"
          fontSize={23}
          fontWeight="bold"
        >
          {String(v)}
        </text>
      ))}

      {/* y axis title */}
      <text
        transform={`translate(${p.yLabelX},${(t + b) / 2}) rotate(-90)`}
        textAnchor="middle"
        dominantBaseline="central"
        fontSize={23}
        fontWeight="bold"
      >
        {p.yLabel}
      </text>

      {/* panel letter */}
      <text x={r - 38} y={t + p.letterDy} textAnchor="middle" fontSize={30} fontWeight="bold">
        {p.letter}
      </text>

      {/* x tick labels */}
      {hourTicks.map((h) => (
        <text key={`xl${h}`} x={x(h)} y={b + 32} textAnchor="middle" fontSize={23} fontWeight="bold">
          {h}
        </text>
      ))}

      {p.key === "a" && (
        <text x={572} y={b + 56} textAnchor="middle" fontSize={23} fontWeight="bold">
          Hour UT
        </text>
      )}

      {isLast && (
        <g fontSize={23} fontWeight="bold">
          <text x={28} y={b + 32}>UT</text>
          {[
            { name: "X", vals: orbitX, dy: 59 },
            { name: "Y", vals: orbitY, dy: 83 },
            { name: "Z", vals: orbitZ, dy: 107 },
          ].map((row) => (
            <g key={row.name}>
              <text x={28} y={b + row.dy}>{row.name}</text>
              {orbitHours.map((h, i) => (
                <text key={h} x={x(h)} y={b + row.dy} textAnchor="middle">
                  {row.vals[i]}
                </text>
              ))}
            </g>
          ))}
        </g>
      )}
    </g>
  );
}

export default function App() {
  return (
    <div style={{ position: "absolute", left: 0, top: 0 }}>
      <svg
        width={W}
        height={H}
        style={{ display: "block", fontFamily: SERIF }}
        fill="#000"
      >
        <rect x={0} y={0} width={W} height={H} fill="#fff" />
        {panels.map((p) => (
          <PanelView key={p.key} p={p} />
        ))}
      </svg>
    </div>
  );
}
